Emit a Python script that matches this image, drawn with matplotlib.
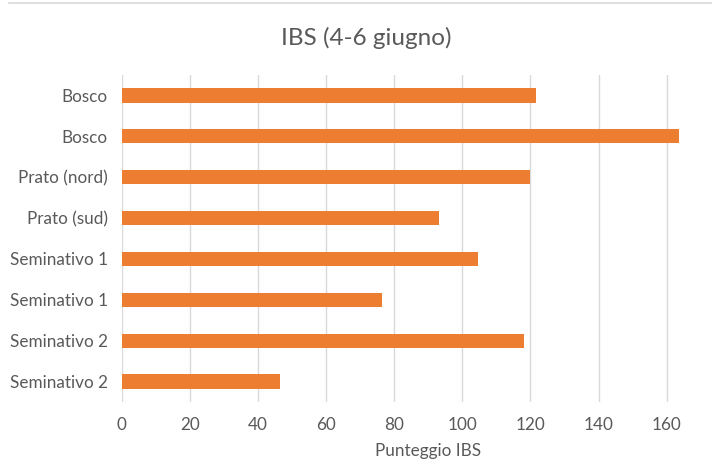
import matplotlib.pyplot as plt
from matplotlib.lines import Line2D

categories = ["Bosco", "Bosco", "Prato (nord)", "Prato (sud)",
              "Seminativo 1", "Seminativo 1", "Seminativo 2", "Seminativo 2"]
values = [121.5, 163.5, 119.8, 93.2, 104.6, 76.5, 118.2, 46.5]
ticks = [0, 20, 40, 60, 80, 100, 120, 140, 160]
tick_labels = ["0", "20", "40", "60", "80", "100", "120", "140", "160"]

plt.rcParams['font.family'] = ['Lato', 'DejaVu Sans']
grey = "#595959"

fig = plt.figure(figsize=(7.12, 4.65), dpi=100)
# the plot area runs past the right edge of the picture (it was cropped)
ax = fig.add_axes([0.171, 0.1355, 0.861, 0.7032])

pos = list(range(len(categories)))
ax.barh(pos, values, height=0.35, color="#ED7D31", zorder=3)
ax.set_ylim(len(categories) - 0.5, -0.5)
ax.set_xlim(0, 180)

ax.set_yticks(pos)
ax.set_yticklabels(categories)
ax.set_xticks(ticks)
ax.set_xticklabels(tick_labels)
ax.tick_params(length=0, colors=grey, labelsize=12.3)
ax.tick_params(axis="x", pad=11)
ax.tick_params(axis="y", pad=10)

ax.grid(axis="x", color="#d9d9d9", linewidth=1, zorder=0)
for s in ax.spines.values():
    s.set_visible(False)

ax.set_xlabel("Punteggio IBS", color=grey, fontsize=12.3, labelpad=7)
fig.text(0.514, 0.918, "IBS (4-6 giugno)", ha="center", va="center",
         fontsize=17.5, color=grey)

# thin frame line at the top of the chart box
fig.add_artist(Line2D([0.013, 1.0], [0.994, 0.994], color="#d9d9d9", linewidth=1.2))

fig.savefig("out.png", dpi=100)
